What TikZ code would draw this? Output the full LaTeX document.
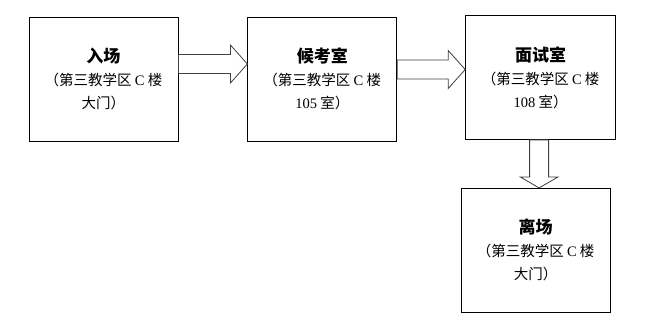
\documentclass[tikz,border=0pt]{standalone}
\usepackage{fontspec}
\newfontfamily\cjk{Noto Sans CJK SC}
\newfontfamily\lat{Liberation Serif}
\usetikzlibrary{positioning,calc}
% block arrow: from, to, head length
\newcommand\fatarrow[3]{%
  \path ($(#2)!#3!(#1)$) coordinate (hb);
  \draw[fa] ($(#1)!9.5pt!90:(#2)$) -- ($(hb)!9.5pt!-90:(#1)$)
    -- ($(hb)!19pt!-90:(#1)$) -- (#2) -- ($(hb)!19pt!90:(#1)$)
    -- ($(hb)!9.5pt!90:(#1)$) -- ($(#1)!9.5pt!-90:(#2)$) -- cycle;}
\newcommand\ttl[1]{{\bfseries\fontsize{17}{23}\selectfont #1}}
\begin{document}
\begin{tikzpicture}[
  font=\cjk\fontsize{14.5}{23}\selectfont,
  bx/.style={draw,line width=0.8pt,align=center,minimum width=149pt,
             minimum height=124pt,inner sep=0pt},
  fa/.style={draw=black!75,line width=0.8pt,fill=white}]
\useasboundingbox (0,0) rectangle (649pt,-335pt);
\node[bx] (b1) at (103.5pt,-79pt) {\ttl{入场}\\
  （第三教学区 {\lat C} 楼\\ 大门）};
\node[bx,right=69pt of b1] (b2) {\ttl{候考室}\\
  （第三教学区 {\lat C} 楼\\ {\lat 105} 室）};
\node[bx,right=68pt of b2,yshift=1.5pt,minimum width=150pt] (b3)
  {\ttl{面试室}\\ （第三教学区 {\lat C} 楼\\ {\lat 108} 室）};
\node[bx,below=48pt of b3,xshift=-5pt] (b4) {\ttl{离场}\\
  （第三教学区 {\lat C} 楼\\ 大门）};
\coordinate (a1) at ([yshift=15pt]b1.east);
\coordinate (t1) at (a1 -| b2.west);
\coordinate (a2) at ([yshift=9.5pt]b2.east);
\coordinate (t2) at (a2 -| b3.west);
\coordinate (a3) at ([xshift=-1.5pt]b3.south);
\coordinate (t3) at (a3 |- b4.north);
\fatarrow{a1}{t1}{17pt}
\fatarrow{a2}{t2}{17pt}
\fatarrow{a3}{t3}{11pt}
\end{tikzpicture}
\end{document}
